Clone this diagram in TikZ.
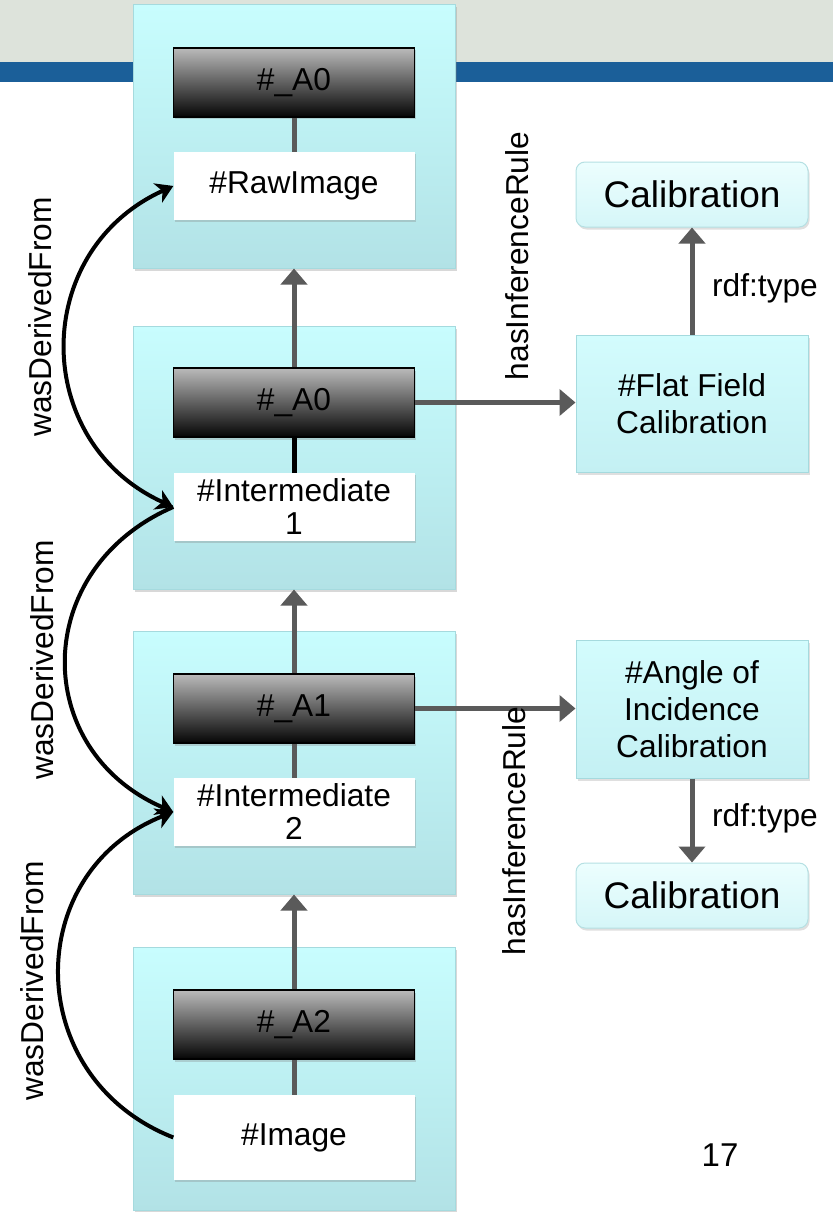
\documentclass[tikz,border=0pt]{standalone}
\usepackage{fontspec}
\setmainfont{Liberation Sans}
\usepackage{tikz}
\usetikzlibrary{arrows.meta,shapes,shadows,positioning}
\definecolor{slideblue}{HTML}{1B5F99}
\definecolor{headgrey}{HTML}{DDE3DB}
\definecolor{stagetop}{HTML}{C8FDFE}
\definecolor{stagebot}{HTML}{B2E2E6}
\definecolor{stageline}{HTML}{A5DADE}
\definecolor{ruletop}{HTML}{D3FCFD}
\definecolor{rulebot}{HTML}{C4F0F3}
\definecolor{classtop}{HTML}{ECFEFE}
\definecolor{classbot}{HTML}{D5F6F8}
\definecolor{classline}{HTML}{B5E0E3}
\definecolor{linkgrey}{HTML}{5A5A5A}
\tikzstyle{link} = [draw=linkgrey, line width=5pt,%
	-{Triangle[length=16pt,width=26pt]}]
\tikzstyle{derived} = [draw=black, line width=4pt,%
	>={Stealth[length=17pt,width=21pt,inset=5pt]}]

\begin{document}
\begin{tikzpicture}[x=1pt,y=-1pt]
    \tikzstyle{every node}=[font=\fontsize{31.7}{36}\selectfont]
    \tikzstyle{stage}=[rectangle,draw=stageline,line width=1pt,top color=stagetop,bottom color=stagebot,minimum width=322pt,minimum height=263pt,inner sep=0pt,drop shadow={shadow xshift=1.5pt,shadow yshift=-2.5pt,opacity=.3}]
    \tikzstyle{activity}=[rectangle,draw=black,line width=1.5pt,top color=black!27,bottom color=black!98,minimum width=241pt,minimum height=69pt,inner sep=0pt,drop shadow={shadow xshift=1.5pt,shadow yshift=-2.5pt,opacity=.3}]
    \tikzstyle{entity}=[rectangle,fill=white,minimum width=241pt,minimum height=68pt,inner sep=0pt,align=center,font=\fontsize{31.7}{33}\selectfont,drop shadow={shadow xshift=1.5pt,shadow yshift=-2.5pt,opacity=.3}]
    \tikzstyle{rule}=[rectangle,draw=stageline,line width=1pt,top color=ruletop,bottom color=rulebot,minimum width=232pt,inner sep=0pt,align=center,font=\fontsize{31.7}{37}\selectfont,drop shadow={shadow xshift=1.5pt,shadow yshift=-2.5pt,opacity=.25}]
    \tikzstyle{class}=[rectangle,rounded corners=9pt,draw=classline,line width=1pt,top color=classtop,bottom color=classbot,minimum width=232pt,minimum height=65pt,inner sep=0pt,font=\fontsize{37}{42}\selectfont,drop shadow={shadow xshift=1.5pt,shadow yshift=-2.5pt,opacity=.25}]
    \useasboundingbox (0,0) rectangle (833,1212);
    \fill[white] (0,0) rectangle (833,1212);
    \fill[headgrey] (0,0) rectangle (833,62);
    \fill[slideblue] (0,62) rectangle (833,82);

    % provenance chain
    \begin{scope}
      \node[stage] (stage0) at (294,136.5) {};
      \node[stage] (stage1) at (294,457.5) {};
      \node[stage] (stage2) at (294,762.5) {};
      \node[stage] (stage3) at (294,1078.5) {};

      \node[activity] (a0top) at (294,82.5) {\#\_A0};
      \node[entity,below=34pt of a0top] (raw) {\#RawImage};
      \node[activity] (a0) at (294,402.5) {\#\_A0};
      \node[entity,below=35pt of a0] (inter1) {\#Intermediate\\1};
      \node[activity] (a1) at (294,708.5) {\#\_A1};
      \node[entity,below=34pt of a1] (inter2) {\#Intermediate\\2};
      \node[activity] (a2) at (294,1024.5) {\#\_A2};
      \node[entity,minimum height=85pt,below=35pt of a2] (img) {\#Image};
    \end{scope}

    % inference rules
    \begin{scope}
      \node[rule,minimum height=137pt] (flat) at (692,403.5) {\#Flat Field\\Calibration};
      \node[class,above=107pt of flat] (calib1) {Calibration};
      \node[rule,minimum height=138pt] (angle) at (692,709) {\#Angle of\\Incidence\\Calibration};
      \node[class,below=84pt of angle] (calib2) {Calibration};
    \end{scope}

    \draw[linkgrey,line width=5pt] (a0top.south) -- (raw.north);
    \draw[black,line width=5pt] (a0.south) -- (inter1.north);
    \draw[linkgrey,line width=5pt] (a1.south) -- (inter2.north);
    \draw[linkgrey,line width=5pt] (a2.south) -- (img.north);

    \draw[link] (a0.north) -- (stage0.south);
    \draw[link] (a1.north) -- (stage1.south);
    \draw[link] (a2.north) -- (stage2.south);

    \draw[link] (a0.east) -- (a0.east -| flat.west);
    \draw[link] (a1.east) -- (a1.east -| angle.west);
    \draw[link] (flat.north) -- (calib1.south);
    \draw[link] (angle.south) -- (calib2.north);

    \draw[derived,<->] (raw.west) .. controls +(-143,65) and +(-143,-65) .. (inter1.west);
    \draw[derived,->] (inter1.west) .. controls +(-143,62) and +(-143,-62) .. (inter2.west);
    \draw[derived,->] (img.west) .. controls +(-152,-60) and +(-152,60) .. (inter2.west);

    % edge labels
    \node[rotate=90] (wdf0) at (40,317) {wasDerivedFrom};
    \node[rotate=90] (wdf1) at (42,660) {wasDerivedFrom};
    \node[rotate=90] (wdf2) at (32,981) {wasDerivedFrom};
    \node[rotate=90] (hir0) at (517,256) {hasInferenceRule};
    \node[rotate=90] (hir1) at (514,831) {hasInferenceRule};
    \node (type0) at (765,288) {rdf:type};
    \node (type1) at (765,818) {rdf:type};
    \node[font=\fontsize{33}{38}\selectfont] (page) at (720,1155) {17};
\end{tikzpicture}
\end{document}
